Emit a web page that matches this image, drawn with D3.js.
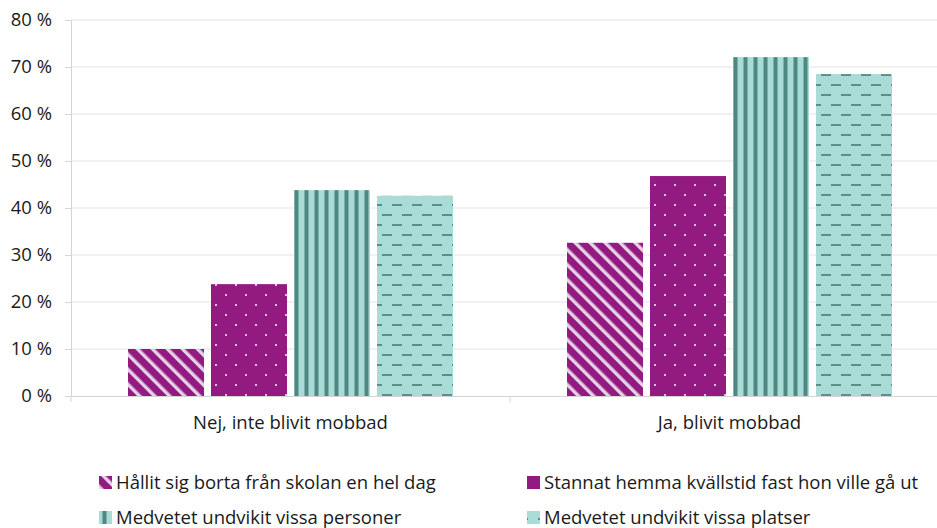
<html lang="sv">
<head>
<meta charset="utf-8">
<script src="https://d3js.org/d3.v7.min.js"></script>
<style>
  body { margin: 0; background: #fff; }
  text { font-family: "Open Sans", sans-serif; fill: #1a1a1a; }
</style>
</head>
<body>
<div id="chart"></div>
<script>
  // data
  const categories = ["Nej, inte blivit mobbad", "Ja, blivit mobbad"];
  const seriesNames = [
    "Hållit sig borta från skolan en hel dag",
    "Stannat hemma kvällstid fast hon ville gå ut",
    "Medvetet undvikit vissa personer",
    "Medvetet undvikit vissa platser"
  ];
  const valuesNej = [10.0, 23.8, 43.8, 42.6];
  const valuesJa = [32.6, 46.8, 72.1, 68.5];
  const yTicks = [0, 10, 20, 30, 40, 50, 60, 70, 80];

  const W = 937, H = 528;
  const purple = "#931A80", lightTeal = "#A9DBD7", darkTeal = "#4E8882";
  const fontSize = 18.5;

  const svg = d3.select("#chart").append("svg")
    .attr("width", W).attr("height", H);

  // patterns
  const defs = svg.append("defs");
  const pDiag = defs.append("pattern").attr("id", "pat0")
    .attr("patternUnits", "userSpaceOnUse")
    .attr("width", 10.6).attr("height", 10.6)
    .attr("patternTransform", "rotate(-45)");
  pDiag.append("rect").attr("width", 10.6).attr("height", 10.6).attr("fill", purple);
  pDiag.append("rect").attr("x", 0).attr("width", 3.4).attr("height", 10.6).attr("fill", "#E6D2E6");

  const pDots = defs.append("pattern").attr("id", "pat1")
    .attr("patternUnits", "userSpaceOnUse")
    .attr("width", 20).attr("height", 20);
  pDots.append("rect").attr("width", 20).attr("height", 20).attr("fill", purple);
  [[5, 5], [15, 15]].forEach(([cx, cy]) =>
    pDots.append("rect").attr("x", cx - 1).attr("y", cy - 1)
      .attr("width", 2).attr("height", 2).attr("fill", "#DDBCD9"));

  const pVert = defs.append("pattern").attr("id", "pat2")
    .attr("patternUnits", "userSpaceOnUse")
    .attr("width", 10).attr("height", 10);
  pVert.append("rect").attr("width", 10).attr("height", 10).attr("fill", lightTeal);
  pVert.append("rect").attr("x", 3).attr("width", 1).attr("height", 10).attr("fill", "#7FB1AC");
  pVert.append("rect").attr("x", 4).attr("width", 3).attr("height", 10).attr("fill", darkTeal);
  pVert.append("rect").attr("x", 7).attr("width", 1).attr("height", 10).attr("fill", "#7FB1AC");

  const pDash = defs.append("pattern").attr("id", "pat3")
    .attr("patternUnits", "userSpaceOnUse")
    .attr("width", 20).attr("height", 20);
  pDash.append("rect").attr("width", 20).attr("height", 20).attr("fill", lightTeal);
  pDash.append("rect").attr("x", 1).attr("y", 4).attr("width", 10).attr("height", 2).attr("fill", "#5A8F8A");
  pDash.append("rect").attr("x", 11).attr("y", 14).attr("width", 10).attr("height", 2).attr("fill", "#5A8F8A");
  pDash.append("rect").attr("x", -9).attr("y", 14).attr("width", 10).attr("height", 2).attr("fill", "#5A8F8A");

  const fills = seriesNames.map((d, i) => `url(#pat${i})`);

  // scales
  const x0 = d3.scaleBand().domain(categories).range([71, 949]).padding(0);
  const x1 = d3.scaleBand().domain(seriesNames).range([0, x0.bandwidth()])
    .paddingInner(0.084).paddingOuter(0.687);
  const y = d3.scaleLinear().domain([0, 80]).range([396, 20]);

  // gridlines
  svg.append("g").selectAll("line").data(yTicks.slice(1)).join("line")
    .attr("x1", 71).attr("x2", 949)
    .attr("y1", d => y(d)).attr("y2", d => y(d))
    .attr("stroke", "#E3E3E3").attr("stroke-width", 1);

  // y axis
  const yAxis = svg.append("g").attr("transform", "translate(71,0)")
    .call(d3.axisLeft(y).tickValues(yTicks).tickSize(6).tickSizeOuter(0).tickFormat(d => d + " %"));
  yAxis.select(".domain").attr("stroke", "#D4D4D4");
  yAxis.selectAll(".tick line").attr("stroke", "#D4D4D4");
  yAxis.selectAll("text").attr("font-size", fontSize).attr("x", -19).attr("fill", "#1a1a1a")
    .style("font-family", "'Open Sans', sans-serif");

  // bars
  const data = categories.map((c, i) => ({
    cat: c, vals: (i === 0 ? valuesNej : valuesJa)
  }));
  svg.append("g").selectAll("g").data(data).join("g")
    .attr("transform", d => `translate(${x0(d.cat)},0)`)
    .selectAll("rect")
    .data(d => d.vals.map((v, i) => ({ key: seriesNames[i], value: v, i })))
    .join("rect")
    .attr("x", d => x1(d.key))
    .attr("y", d => y(d.value))
    .attr("width", x1.bandwidth())
    .attr("height", d => y(0) - y(d.value))
    .attr("fill", d => fills[d.i]);

  // x axis
  const xAxis = svg.append("g").attr("transform", `translate(0,${y(0)})`)
    .call(d3.axisBottom(x0).tickSize(0).tickSizeOuter(0));
  xAxis.select(".domain").attr("stroke", "#D4D4D4");
  xAxis.selectAll("text").attr("font-size", fontSize).attr("y", 20).attr("fill", "#1a1a1a")
    .style("font-family", "'Open Sans', sans-serif");
  // category separators
  svg.append("g").selectAll("line").data([71, 510]).join("line")
    .attr("x1", d => d).attr("x2", d => d)
    .attr("y1", y(0)).attr("y2", y(0) + 6)
    .attr("stroke", "#D4D4D4");

  // legend
  const legendPos = [[99, 489], [527, 489], [99, 524], [527, 524]];
  const leg = svg.append("g").selectAll("g").data(seriesNames).join("g")
    .attr("transform", (d, i) => `translate(${legendPos[i][0]},${legendPos[i][1]})`);
  leg.append("rect").attr("x", 0).attr("y", -13).attr("width", 13).attr("height", 13)
    .attr("fill", (d, i) => fills[i]);
  leg.append("text").attr("x", 17).attr("y", 0).attr("font-size", fontSize).text(d => d);
</script>
</body>
</html>
